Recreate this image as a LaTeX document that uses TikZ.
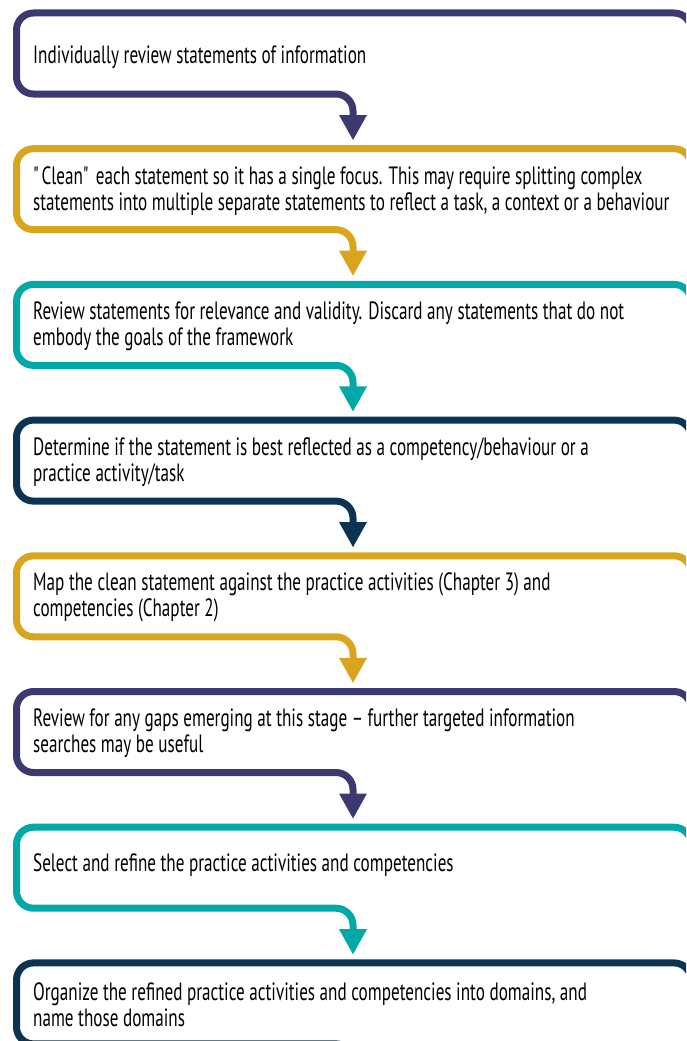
\documentclass[tikz,border=0pt]{standalone}
\usepackage{fontspec}
\setmainfont{PT Sans}[FakeStretch=0.685]
\usetikzlibrary{calc}

\definecolor{stepPurple}{RGB}{60,57,113}
\definecolor{stepGold}{RGB}{217,165,30}
\definecolor{stepTeal}{RGB}{0,168,168}
\definecolor{stepNavy}{RGB}{12,52,82}

\begin{document}
\begin{tikzpicture}[x = 1pt, y = -1pt,
		outline/.style = {line width = 7pt, rounded corners = 17pt, line join = round},
		steptext/.style = {anchor = west, align = left, inner sep = 0pt, font = \fontsize{25}{26}\selectfont}]
		\def\W{686};
		\def\H{1041};
		\def\dY{135.7};

		\useasboundingbox (0,0) rectangle (\W,\H);
		\clip (0,0) rectangle (\W,\H);

		% outlines with their down arrows
		\foreach \i/\col in {0/stepPurple, 1/stepGold, 2/stepTeal, 3/stepNavy, 4/stepGold, 5/stepPurple, 6/stepTeal, 7/stepNavy} {
			\coordinate (T\i) at (0, 13 + \i*\dY);
			\begin{scope}[shift = {(T\i)}]
				\draw [outline, \col] (691,60) -- (691,0) -- (16.5,0) -- (16.5,81) -- (353,81) -- (353,104);
				\fill [\col] (339,102) -- (367,102) -- (353,127) -- cycle;
			\end{scope}
		}

		\node [steptext] (s0) at ($ (T0) + (33,44) $) {Individually review statements of information};
		\node [steptext] (s1) at ($ (T1) + (33,42) $) {\textquotedbl Clean\textquotedbl\ each statement so it has a single focus. This may require splitting complex\\statements into multiple separate statements to reflect a task, a context or a behaviour};
		\node [steptext] (s2) at ($ (T2) + (33,42) $) {Review statements for relevance and validity. Discard any statements that do not\\embody the goals of the framework};
		\node [steptext] (s3) at ($ (T3) + (33,42) $) {Determine if the statement is best reflected as a competency/behaviour or a\\practice activity/task};
		\node [steptext] (s4) at ($ (T4) + (33,42) $) {Map the clean statement against the practice activities (Chapter 3) and\\competencies (Chapter 2)};
		\node [steptext] (s5) at ($ (T5) + (33,42) $) {Review for any gaps emerging at this stage -- further targeted information\\searches may be useful};
		\node [steptext] (s6) at ($ (T6) + (33,38) $) {Select and refine the practice activities and competencies};
		\node [steptext] (s7) at ($ (T7) + (33,42) $) {Organize the refined practice activities and competencies into domains, and\\name those domains};
	\end{tikzpicture}
\end{document}
